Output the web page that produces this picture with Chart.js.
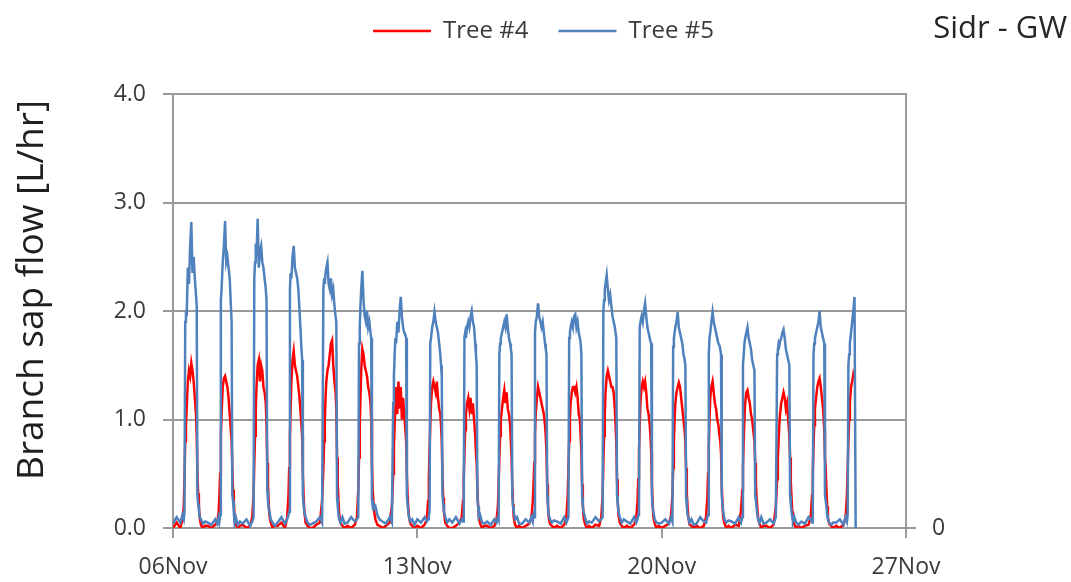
<!DOCTYPE html>
<html>
<head>
<meta charset="utf-8">
<title>Branch sap flow - Sidr GW</title>
<script src="https://cdn.jsdelivr.net/npm/chart.js@4.4.1/dist/chart.umd.min.js"></script>
<style>
  body { margin: 0; background: #fff; }
  canvas { display: block; }
</style>
</head>
<body>
<canvas id="sapflow-chart" width="1071" height="582"></canvas>
<script>
// Hours of the day at which each daily row is sampled
const hours = [0, 2.5, 5, 6.5, 7.4, 7.9, 8.4, 8.9, 9.4, 10.2, 11, 11.8, 12.6,
  13.4, 14.2, 15, 15.8, 16.3, 16.8, 17.3, 17.8, 18.3, 19.2, 20.5, 22];

// One row per day, 06Nov .. 25Nov (days since 06Nov = row index)
const dayLabels = ['06Nov', '07Nov', '08Nov', '09Nov', '10Nov', '11Nov', '12Nov',
  '13Nov', '14Nov', '15Nov', '16Nov', '17Nov', '18Nov', '19Nov', '20Nov',
  '21Nov', '22Nov', '23Nov', '24Nov', '25Nov'];

// Tree #5 branch sap flow [L/hr]
const tree5 = [
  [0.04, 0.10, 0.05, 0.12, 0.08, 0.15, 1.90, 2.00, 1.95, 2.40, 2.25, 2.60, 2.82, 2.35, 2.50, 2.30, 2.15, 2.05, 0.30, 0.22, 0.18, 0.10, 0.08, 0.04, 0.06],
  [0.05, 0.03, 0.08, 0.04, 0.10, 0.06, 0.12, 2.10, 2.20, 2.45, 2.60, 2.83, 2.45, 2.50, 2.40, 2.30, 2.05, 1.90, 0.30, 0.25, 0.15, 0.05, 0.10, 0.03, 0.06],
  [0.04, 0.08, 0.02, 0.06, 0.10, 2.30, 2.45, 2.62, 2.50, 2.85, 2.40, 2.55, 2.60, 2.45, 2.40, 2.30, 2.20, 2.10, 0.35, 0.25, 0.18, 0.15, 0.08, 0.05, 0.02],
  [0.05, 0.10, 0.04, 0.08, 0.12, 0.15, 2.20, 2.35, 2.30, 2.50, 2.60, 2.40, 2.35, 2.30, 2.20, 2.00, 1.80, 1.65, 1.55, 0.30, 0.22, 0.15, 0.10, 0.05, 0.03],
  [0.04, 0.06, 0.10, 0.05, 2.20, 2.30, 2.25, 2.35, 2.40, 2.45, 2.25, 2.20, 2.30, 2.15, 2.20, 2.05, 1.95, 1.90, 0.28, 0.20, 0.12, 0.08, 0.05, 0.10, 0.04],
  [0.05, 0.10, 0.06, 0.08, 0.10, 1.70, 1.85, 2.05, 2.20, 2.37, 2.10, 1.95, 1.90, 2.00, 1.85, 1.90, 1.80, 1.75, 0.25, 0.20, 0.22, 0.18, 0.20, 0.12, 0.08],
  [0.06, 0.04, 0.10, 0.05, 1.15, 1.40, 1.60, 1.75, 1.70, 1.90, 1.80, 2.00, 2.13, 1.95, 1.85, 1.80, 1.78, 1.75, 0.30, 0.22, 0.15, 0.10, 0.06, 0.08, 0.03],
  [0.08, 0.05, 0.10, 0.06, 0.08, 0.12, 0.15, 1.70, 1.75, 1.85, 1.90, 1.99, 1.90, 1.85, 1.80, 1.70, 1.60, 1.50, 1.40, 0.30, 0.22, 0.15, 0.10, 0.05, 0.08],
  [0.05, 0.10, 0.04, 0.08, 0.06, 0.12, 1.76, 1.80, 1.75, 1.85, 1.90, 1.85, 1.95, 2.00, 1.90, 1.85, 1.70, 1.60, 1.50, 0.28, 0.20, 0.10, 0.12, 0.05, 0.04],
  [0.06, 0.03, 0.08, 0.05, 0.10, 0.08, 1.60, 1.70, 1.75, 1.80, 1.85, 1.90, 1.85, 1.97, 1.85, 1.75, 1.70, 1.65, 1.60, 0.30, 0.20, 0.15, 0.08, 0.10, 0.04],
  [0.04, 0.08, 0.05, 0.10, 0.06, 0.12, 0.10, 1.80, 1.90, 1.95, 2.07, 1.95, 1.90, 1.85, 1.90, 1.80, 1.70, 1.65, 1.60, 0.30, 0.22, 0.12, 0.08, 0.05, 0.07],
  [0.06, 0.04, 0.10, 0.05, 0.08, 0.10, 1.75, 1.80, 1.85, 1.90, 1.85, 1.95, 1.97, 1.85, 1.90, 1.80, 1.75, 1.70, 1.60, 0.28, 0.20, 0.15, 0.10, 0.04, 0.06],
  [0.05, 0.10, 0.06, 0.08, 0.10, 2.00, 2.10, 2.20, 2.25, 2.33, 2.20, 2.10, 2.15, 2.05, 1.95, 1.90, 1.85, 1.80, 1.75, 0.30, 0.22, 0.15, 0.10, 0.05, 0.08],
  [0.06, 0.04, 0.10, 0.05, 0.08, 0.12, 0.15, 1.85, 1.90, 1.95, 1.90, 2.00, 2.07, 1.95, 1.85, 1.80, 1.75, 1.72, 1.70, 0.30, 0.20, 0.15, 0.08, 0.05, 0.04],
  [0.05, 0.08, 0.04, 0.10, 0.06, 1.67, 1.75, 1.80, 1.85, 1.90, 1.99, 1.85, 1.80, 1.75, 1.70, 1.60, 1.55, 1.50, 0.28, 0.20, 0.12, 0.10, 0.05, 0.08, 0.03],
  [0.04, 0.10, 0.06, 0.05, 0.10, 0.12, 1.60, 1.75, 1.80, 1.90, 1.99, 1.90, 1.85, 1.80, 1.75, 1.70, 1.68, 1.65, 1.60, 0.30, 0.22, 0.15, 0.08, 0.05, 0.07],
  [0.06, 0.04, 0.10, 0.05, 0.10, 1.50, 1.60, 1.70, 1.75, 1.80, 1.85, 1.75, 1.70, 1.65, 1.55, 1.50, 1.45, 0.30, 0.25, 0.18, 0.12, 0.08, 0.05, 0.10, 0.04],
  [0.05, 0.08, 0.04, 0.10, 1.60, 1.65, 1.70, 1.68, 1.72, 1.75, 1.80, 1.83, 1.75, 1.65, 1.60, 1.55, 1.50, 0.30, 0.22, 0.15, 0.10, 0.06, 0.10, 0.05, 0.03],
  [0.06, 0.04, 0.10, 0.08, 0.05, 0.10, 1.60, 1.70, 1.75, 1.80, 1.85, 1.90, 2.00, 1.85, 1.80, 1.75, 1.70, 0.30, 0.25, 0.20, 0.12, 0.08, 0.05, 0.03, 0.05],
  [0.05, 0.08, 0.03, 0.10, 0.06, 0.12, 1.50, 1.60, 1.70, 1.80, 1.90, 2.00, 2.13, 0.00]
];

// Tree #4 branch sap flow [L/hr]
const tree4 = [
  [0.00, 0.05, 0.00, 0.08, 0.20, 0.45, 0.80, 0.95, 1.10, 1.35, 1.45, 1.40, 1.52, 1.45, 1.35, 1.20, 1.05, 0.85, 0.50, 0.32, 0.20, 0.10, 0.03, 0.00, 0.02],
  [0.02, 0.00, 0.03, 0.05, 0.15, 0.30, 0.50, 0.85, 1.05, 1.30, 1.38, 1.40, 1.35, 1.30, 1.20, 1.05, 0.90, 0.80, 0.55, 0.35, 0.25, 0.12, 0.03, 0.00, 0.02],
  [0.03, 0.00, 0.02, 0.10, 0.30, 0.60, 0.85, 1.10, 1.30, 1.50, 1.55, 1.35, 1.50, 1.45, 1.30, 1.25, 1.15, 0.95, 0.60, 0.40, 0.22, 0.12, 0.05, 0.00, 0.02],
  [0.02, 0.05, 0.00, 0.10, 0.30, 0.55, 0.85, 1.10, 1.35, 1.55, 1.63, 1.50, 1.45, 1.40, 1.30, 1.20, 1.05, 0.95, 0.85, 0.50, 0.30, 0.15, 0.05, 0.02, 0.00],
  [0.00, 0.03, 0.05, 0.25, 0.55, 0.80, 1.00, 1.20, 1.35, 1.45, 1.50, 1.60, 1.70, 1.73, 1.50, 1.35, 1.25, 1.10, 0.65, 0.40, 0.25, 0.12, 0.05, 0.02, 0.00],
  [0.02, 0.00, 0.03, 0.10, 0.35, 0.65, 0.95, 1.20, 1.45, 1.65, 1.60, 1.50, 1.45, 1.40, 1.30, 1.25, 1.15, 1.00, 0.60, 0.35, 0.25, 0.15, 0.08, 0.03, 0.02],
  [0.00, 0.02, 0.05, 0.20, 0.50, 0.75, 0.95, 1.10, 1.30, 1.05, 1.35, 1.10, 1.30, 1.00, 1.20, 1.05, 0.90, 0.80, 0.50, 0.30, 0.18, 0.10, 0.04, 0.02, 0.00],
  [0.02, 0.00, 0.03, 0.08, 0.25, 0.45, 0.70, 0.95, 1.15, 1.30, 1.35, 1.30, 1.25, 1.35, 1.20, 1.10, 1.05, 0.95, 0.80, 0.45, 0.28, 0.15, 0.05, 0.02, 0.00],
  [0.00, 0.02, 0.05, 0.10, 0.25, 0.45, 0.70, 0.90, 1.05, 1.15, 1.20, 1.10, 1.20, 1.05, 1.15, 1.00, 0.85, 0.70, 0.60, 0.35, 0.20, 0.10, 0.04, 0.00, 0.02],
  [0.02, 0.00, 0.02, 0.08, 0.20, 0.40, 0.65, 0.85, 1.00, 1.10, 1.20, 1.27, 1.15, 1.25, 1.10, 1.05, 0.95, 0.80, 0.65, 0.38, 0.22, 0.10, 0.03, 0.00, 0.02],
  [0.00, 0.02, 0.04, 0.10, 0.25, 0.40, 0.60, 0.85, 1.05, 1.20, 1.30, 1.25, 1.20, 1.15, 1.10, 1.05, 0.95, 0.85, 0.70, 0.40, 0.22, 0.10, 0.04, 0.02, 0.00],
  [0.02, 0.00, 0.03, 0.10, 0.30, 0.55, 0.80, 1.00, 1.15, 1.25, 1.30, 1.30, 1.25, 1.30, 1.20, 1.05, 1.00, 0.85, 0.70, 0.40, 0.22, 0.10, 0.04, 0.00, 0.02],
  [0.00, 0.03, 0.02, 0.10, 0.30, 0.60, 0.85, 1.05, 1.25, 1.40, 1.45, 1.40, 1.35, 1.30, 1.30, 1.25, 1.10, 0.95, 0.80, 0.45, 0.25, 0.12, 0.05, 0.02, 0.00],
  [0.02, 0.00, 0.03, 0.08, 0.25, 0.45, 0.70, 0.95, 1.15, 1.30, 1.35, 1.30, 1.35, 1.25, 1.10, 1.05, 0.95, 0.85, 0.70, 0.40, 0.22, 0.10, 0.04, 0.00, 0.02],
  [0.00, 0.02, 0.04, 0.12, 0.30, 0.55, 0.80, 1.00, 1.15, 1.25, 1.30, 1.34, 1.30, 1.20, 1.10, 1.00, 0.90, 0.80, 0.55, 0.32, 0.20, 0.10, 0.03, 0.02, 0.00],
  [0.02, 0.00, 0.02, 0.10, 0.28, 0.50, 0.75, 1.00, 1.20, 1.30, 1.35, 1.25, 1.15, 1.10, 1.00, 0.95, 0.85, 0.80, 0.70, 0.40, 0.22, 0.10, 0.04, 0.00, 0.02],
  [0.00, 0.03, 0.02, 0.15, 0.35, 0.55, 0.80, 1.00, 1.15, 1.25, 1.27, 1.20, 1.15, 1.05, 1.00, 0.90, 0.80, 0.60, 0.40, 0.28, 0.18, 0.10, 0.04, 0.00, 0.02],
  [0.02, 0.00, 0.03, 0.20, 0.45, 0.65, 0.80, 0.95, 1.05, 1.15, 1.20, 1.25, 1.20, 1.10, 1.15, 1.00, 0.85, 0.65, 0.42, 0.28, 0.15, 0.08, 0.03, 0.00, 0.02],
  [0.00, 0.02, 0.03, 0.10, 0.30, 0.50, 0.75, 0.95, 1.10, 1.20, 1.30, 1.35, 1.38, 1.30, 1.20, 1.10, 0.90, 0.65, 0.55, 0.35, 0.20, 0.10, 0.04, 0.02, 0.00],
  [0.02, 0.00, 0.03, 0.10, 0.30, 0.55, 0.80, 1.00, 1.15, 1.30, 1.35, 1.42, 1.38]
];

// Axis ticks (x in days since 06Nov)
const xTicks = [0, 7, 14, 21];
const xTickLabels = ['06Nov', '13Nov', '20Nov', '27Nov'];
const yTicks = [0, 1, 2, 3, 4];
const yTickLabels = ['0.0', '1.0', '2.0', '3.0', '4.0'];
const y2Ticks = [0];
const y2TickLabels = ['0'];

const GRID = '#9a9a9a';
const TEXT = '#3a3a3a';

function toPoints(rows) {
  const pts = [];
  rows.forEach((row, day) => {
    row.forEach((v, i) => pts.push({ x: day + hours[i] / 24, y: v }));
  });
  return pts;
}

// y-axis title and the "Sidr - GW" label
const labelsPlugin = {
  id: 'extraLabels',
  afterDraw(chart) {
    const c = chart.ctx;
    c.save();
    c.fillStyle = '#1f1f1f';
    c.font = "37px 'Open Sans'";
    c.textAlign = 'center';
    c.textBaseline = 'middle';
    c.translate(32, 290);
    c.rotate(-Math.PI / 2);
    c.fillText('Branch sap flow [L/hr]', 0, 0);
    c.restore();

    c.save();
    c.fillStyle = '#262626';
    c.font = "31px 'Open Sans'";
    c.textAlign = 'right';
    c.textBaseline = 'middle';
    c.fillText('Sidr - GW', 1067, 29);
    c.restore();
  }
};

Chart.defaults.font.family = "'Open Sans', sans-serif";

const ctx = document.getElementById('sapflow-chart').getContext('2d');
new Chart(ctx, {
  type: 'line',
  data: {
    datasets: [
      {
        label: 'Tree #5',
        data: toPoints(tree5),
        borderColor: '#4f81bd',
        backgroundColor: '#4f81bd',
        borderWidth: 2.5,
        pointRadius: 0,
        tension: 0
      },
      {
        label: 'Tree #4',
        data: toPoints(tree4),
        borderColor: '#ff0000',
        backgroundColor: '#ff0000',
        borderWidth: 2.5,
        pointRadius: 0,
        tension: 0
      }
    ]
  },
  options: {
    responsive: false,
    animation: false,
    layout: { padding: { top: -11, left: 16, right: 0, bottom: 0 } },
    plugins: {
      tooltip: { enabled: false },
      legend: {
        position: 'top',
        labels: {
          usePointStyle: true,
          pointStyle: 'line',
          pointStyleWidth: 58,
          padding: 30,
          color: TEXT,
          font: { size: 24 },
          sort: (a, b) => b.datasetIndex - a.datasetIndex
        }
      }
    },
    scales: {
      x: {
        type: 'linear',
        position: 'bottom',
        min: 0,
        max: 21,
        afterBuildTicks: s => { s.ticks = xTicks.map(v => ({ value: v })); },
        afterFit: s => { s.height = 54; },
        ticks: {
          autoSkip: false,
          maxRotation: 0,
          padding: 16,
          color: TEXT,
          font: { size: 23 },
          callback: v => xTickLabels[xTicks.indexOf(v)]
        },
        grid: { drawOnChartArea: false, tickLength: 10, color: GRID, lineWidth: 2 },
        border: { color: GRID, width: 2 }
      },
      xTop: {
        type: 'linear',
        position: 'top',
        min: 0,
        max: 1,
        afterFit: s => { s.height = 41; },
        ticks: { display: false },
        grid: { display: false },
        border: { display: false }
      },
      y: {
        position: 'left',
        min: 0,
        max: 4,
        afterBuildTicks: s => { s.ticks = yTicks.map(v => ({ value: v })); },
        afterFit: s => { s.width = 157; },
        ticks: {
          padding: 17,
          color: TEXT,
          font: { size: 23 },
          callback: v => yTickLabels[yTicks.indexOf(v)]
        },
        grid: { color: GRID, lineWidth: 2, tickLength: 10 },
        border: { color: GRID, width: 2 }
      },
      y2: {
        position: 'right',
        min: 0,
        max: 4,
        afterBuildTicks: s => { s.ticks = y2Ticks.map(v => ({ value: v })); },
        afterFit: s => { s.width = 165; },
        ticks: {
          padding: 16,
          color: TEXT,
          font: { size: 23 },
          callback: v => y2TickLabels[y2Ticks.indexOf(v)]
        },
        grid: { drawOnChartArea: false, tickLength: 10, color: GRID, lineWidth: 2 },
        border: { color: GRID, width: 2 }
      }
    }
  },
  plugins: [labelsPlugin]
});
</script>
</body>
</html>
